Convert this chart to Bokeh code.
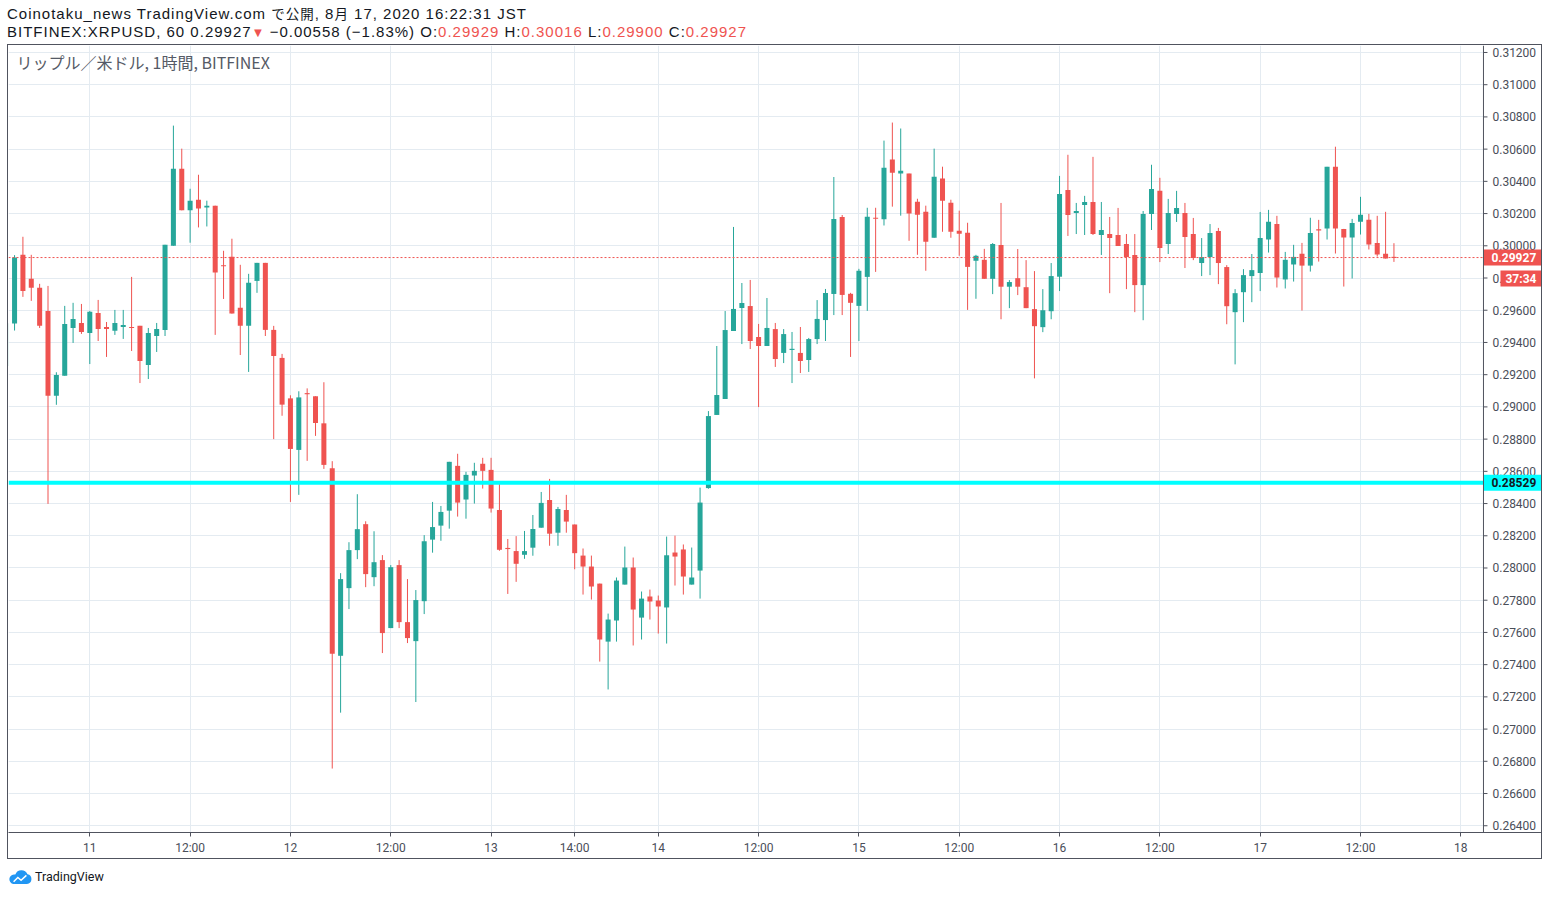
from bokeh.plotting import figure
from bokeh.models import Range1d, FixedTicker, Label, Span, ColumnDataSource, Div
from bokeh.layouts import column
from bokeh.embed import file_html
from bokeh.resources import INLINE
from bokeh.core.properties import value

# ---------------- data ----------------
bar_index = list(range(-10, 157))  # hourly bars, 0 = Aug 11 00:00 (gaps compressed)

opens = [
    0.29254, 0.29517, 0.29944, 0.29795, 0.29739, 0.29596, 0.29069, 0.29194, 0.29490, 0.29521,
    0.29459, 0.29583, 0.29496, 0.29472, 0.29496, 0.29496, 0.29503, 0.29260, 0.29440, 0.29478,
    0.30000, 0.30479, 0.30220, 0.30286, 0.30238, 0.30249, 0.29878, 0.29932, 0.29615, 0.29503,
    0.29782, 0.29894, 0.29478, 0.29304, 0.29053, 0.28733, 0.29084, 0.29066, 0.28898, 0.28619,
    0.27455, 0.27875, 0.28111, 0.28272, 0.27943, 0.28049, 0.27627, 0.28018, 0.27664, 0.27546,
    0.27794, 0.28176, 0.28263, 0.28356, 0.28634, 0.28425, 0.28574, 0.28647, 0.28609, 0.28360,
    0.28124, 0.28105, 0.28082, 0.28126, 0.28250, 0.28422, 0.28219, 0.28360, 0.28270, 0.28077,
    0.28009, 0.27903, 0.27543, 0.27674, 0.27897, 0.28003, 0.27692, 0.27823, 0.27798, 0.27755,
    0.28096, 0.28115, 0.27897, 0.27984, 0.28496, 0.28950, 0.29049, 0.29471, 0.29614, 0.29626,
    0.29434, 0.29378, 0.29483, 0.29335, 0.29355, 0.29335, 0.29291, 0.29421, 0.29539, 0.29701,
    0.30179, 0.29702, 0.29627, 0.29807, 0.30174, 0.30164, 0.30535, 0.30448, 0.30448, 0.30274,
    0.30211, 0.30050, 0.30417, 0.30267, 0.30093, 0.30081, 0.29907, 0.29913, 0.29795, 0.30005,
    0.29746, 0.29799, 0.29743, 0.29607, 0.29495, 0.29594, 0.29808, 0.30347, 0.30204, 0.30254,
    0.30272, 0.30067, 0.30073, 0.30067, 0.30011, 0.29943, 0.29756, 0.30198, 0.30341, 0.30011,
    0.30198, 0.30204, 0.30073, 0.29893, 0.29930, 0.30092, 0.29868, 0.29588, 0.29712, 0.29812,
    0.29831, 0.30039, 0.30136, 0.29791, 0.29884, 0.29950, 0.29877, 0.30101, 0.30107, 0.30490,
    0.30105, 0.30051, 0.30149, 0.30161, 0.30018, 0.29950, 0.29929,
]
highs = [
    0.29550, 0.29942, 0.30056, 0.29944, 0.29764, 0.29751, 0.29215, 0.29627, 0.29646, 0.29639,
    0.29596, 0.29664, 0.29527, 0.29602, 0.29602, 0.29807, 0.29503, 0.29490, 0.29521, 0.30006,
    0.30746, 0.30603, 0.30354, 0.30441, 0.30280, 0.30249, 0.29969, 0.30044, 0.29882, 0.29826,
    0.29894, 0.29894, 0.29503, 0.29329, 0.29072, 0.29097, 0.29115, 0.29066, 0.29153, 0.28663,
    0.27968, 0.28160, 0.28458, 0.28290, 0.28228, 0.28080, 0.28018, 0.28049, 0.27931, 0.27863,
    0.28204, 0.28410, 0.28385, 0.28659, 0.28709, 0.28597, 0.28653, 0.28684, 0.28684, 0.28528,
    0.28180, 0.28198, 0.28230, 0.28329, 0.28472, 0.28553, 0.28379, 0.28454, 0.28270, 0.28121,
    0.28077, 0.27903, 0.27717, 0.27941, 0.28133, 0.28065, 0.27854, 0.27866, 0.27829, 0.28195,
    0.28201, 0.28146, 0.28127, 0.28499, 0.28974, 0.29378, 0.29595, 0.30117, 0.29769, 0.29788,
    0.29515, 0.29676, 0.29521, 0.29483, 0.29465, 0.29496, 0.29428, 0.29663, 0.29732, 0.30427,
    0.30191, 0.29708, 0.29857, 0.30236, 0.30236, 0.30653, 0.30765, 0.30728, 0.30448, 0.30292,
    0.30249, 0.30603, 0.30491, 0.30286, 0.30218, 0.30143, 0.29944, 0.29981, 0.30017, 0.30266,
    0.29787, 0.29980, 0.29911, 0.29843, 0.29731, 0.29893, 0.30434, 0.30565, 0.30266, 0.30310,
    0.30552, 0.30272, 0.30179, 0.30235, 0.30073, 0.30073, 0.30216, 0.30503, 0.30422, 0.30291,
    0.30341, 0.30266, 0.30173, 0.30048, 0.30135, 0.30111, 0.29880, 0.29731, 0.29855, 0.29949,
    0.30210, 0.30223, 0.30186, 0.29962, 0.30006, 0.30018, 0.30174, 0.30161, 0.30490, 0.30615,
    0.30105, 0.30167, 0.30304, 0.30198, 0.30186, 0.30211, 0.30016,
]
lows = [
    0.29220, 0.29474, 0.29683, 0.29658, 0.29490, 0.28398, 0.29013, 0.29194, 0.29397, 0.29453,
    0.29266, 0.29409, 0.29310, 0.29447, 0.29422, 0.29347, 0.29148, 0.29173, 0.29341, 0.29440,
    0.30000, 0.30220, 0.30019, 0.30114, 0.30120, 0.29447, 0.29670, 0.29579, 0.29322, 0.29217,
    0.29708, 0.29440, 0.28800, 0.28945, 0.28410, 0.28454, 0.28665, 0.28820, 0.28615, 0.26755,
    0.27102, 0.27745, 0.28055, 0.27881, 0.27887, 0.27472, 0.27627, 0.27627, 0.27534, 0.27168,
    0.27714, 0.28095, 0.28169, 0.28244, 0.28319, 0.28306, 0.28400, 0.28493, 0.28344, 0.28107,
    0.27839, 0.27914, 0.28057, 0.28076, 0.28250, 0.28138, 0.28138, 0.28219, 0.27992, 0.27835,
    0.27804, 0.27419, 0.27246, 0.27543, 0.27897, 0.27519, 0.27556, 0.27680, 0.27593, 0.27531,
    0.27891, 0.27835, 0.27897, 0.27810, 0.28492, 0.28950, 0.29049, 0.29471, 0.29390, 0.29359,
    0.28999, 0.29378, 0.29248, 0.29272, 0.29148, 0.29210, 0.29217, 0.29390, 0.29409, 0.29570,
    0.29570, 0.29310, 0.29409, 0.29596, 0.29838, 0.30126, 0.30243, 0.30187, 0.30031, 0.29944,
    0.29845, 0.30050, 0.30087, 0.30050, 0.29938, 0.29602, 0.29671, 0.29795, 0.29700, 0.29544,
    0.29613, 0.29694, 0.29613, 0.29177, 0.29464, 0.29544, 0.29719, 0.30061, 0.30073, 0.30067,
    0.30067, 0.29943, 0.29706, 0.29999, 0.29731, 0.29588, 0.29538, 0.30098, 0.29899, 0.29949,
    0.30148, 0.29862, 0.29911, 0.29812, 0.29818, 0.29762, 0.29513, 0.29264, 0.29526, 0.29650,
    0.29719, 0.29958, 0.29741, 0.29735, 0.29778, 0.29598, 0.29840, 0.29902, 0.30039, 0.29952,
    0.29747, 0.29797, 0.30070, 0.29977, 0.29933, 0.29921, 0.29900,
]
closes = [
    0.29519, 0.29927, 0.29720, 0.29739, 0.29503, 0.29069, 0.29198, 0.29515, 0.29546, 0.29465,
    0.29590, 0.29484, 0.29484, 0.29521, 0.29509, 0.29490, 0.29285, 0.29459, 0.29484, 0.30006,
    0.30479, 0.30220, 0.30280, 0.30232, 0.30249, 0.29834, 0.29874, 0.29579, 0.29503, 0.29770,
    0.29894, 0.29478, 0.29316, 0.29014, 0.28739, 0.29059, 0.29080, 0.28900, 0.28640, 0.27468,
    0.27931, 0.28111, 0.28241, 0.27962, 0.28036, 0.27596, 0.28005, 0.27664, 0.27565, 0.27801,
    0.28166, 0.28254, 0.28348, 0.28659, 0.28406, 0.28578, 0.28603, 0.28603, 0.28369, 0.28113,
    0.28118, 0.28026, 0.28105, 0.28242, 0.28404, 0.28213, 0.28366, 0.28288, 0.28092, 0.28009,
    0.27885, 0.27556, 0.27680, 0.27922, 0.28003, 0.27742, 0.27810, 0.27792, 0.27761, 0.28079,
    0.28071, 0.27947, 0.27941, 0.28406, 0.28943, 0.29074, 0.29477, 0.29608, 0.29645, 0.29409,
    0.29378, 0.29490, 0.29297, 0.29452, 0.29359, 0.29285, 0.29421, 0.29546, 0.29707, 0.30166,
    0.29695, 0.29646, 0.29845, 0.30180, 0.30168, 0.30485, 0.30454, 0.30466, 0.30201, 0.30193,
    0.30025, 0.30429, 0.30280, 0.30087, 0.30075, 0.29869, 0.29938, 0.29795, 0.30011, 0.29746,
    0.29775, 0.29746, 0.29613, 0.29501, 0.29600, 0.29812, 0.30322, 0.30191, 0.30216, 0.30272,
    0.30073, 0.30098, 0.30048, 0.29999, 0.29930, 0.29756, 0.30198, 0.30353, 0.29986, 0.30204,
    0.30235, 0.30055, 0.29924, 0.29930, 0.30079, 0.29893, 0.29625, 0.29706, 0.29818, 0.29849,
    0.30048, 0.30149, 0.29803, 0.29913, 0.29931, 0.29877, 0.30080, 0.30097, 0.30490, 0.30107,
    0.30051, 0.30142, 0.30192, 0.30008, 0.29946, 0.29921, 0.29927,
]

time_tick_pos = [0, 12, 24, 36, 48, 58, 68, 80, 92, 104, 116, 128, 140, 152, 164]
time_tick_labels = ["11", "12:00", "12", "12:00", "13", "14:00", "14", "12:00",
                    "15", "12:00", "16", "12:00", "17", "12:00", "18"]

price_ticks = [0.264, 0.266, 0.268, 0.270, 0.272, 0.274, 0.276, 0.278, 0.280, 0.282,
               0.284, 0.286, 0.288, 0.290, 0.292, 0.294, 0.296, 0.298, 0.300, 0.302,
               0.304, 0.306, 0.308, 0.310, 0.312]
price_tick_labels = ["0.26400", "0.26600", "0.26800", "0.27000", "0.27200", "0.27400",
                     "0.27600", "0.27800", "0.28000", "0.28200", "0.28400", "0.28600",
                     "0.28800", "0.29000", "0.29200", "0.29400", "0.29600", "0.29800",
                     "0.30000", "0.30200", "0.30400", "0.30600", "0.30800", "0.31000",
                     "0.31200"]

last_price = 0.29927
last_price_label = "0.29927"
countdown_label = "37:34"
support_level = 0.28529
support_label = "0.28529"
chart_title = "リップル／米ドル, 1時間, BITFINEX"

# ---------------- styling / layout ----------------
UP = "#26a69a"
DOWN = "#ef5350"
CYAN = "#00ffff"
AX = "#50535e"
TXT = "#4a4e59"
GRID = "#e4ebf1"

PLOT_W, PLOT_H = 1535, 815
BOTTOM_AXIS_H = 28
x_start, x_end = -9.725, 173.89          # full frame (bars area + price scale column)
price_area_start = 166.71                # left edge of the price scale column
y_start, y_end = 0.263581, 0.312433
bar_px = PLOT_W / (x_end - x_start)                       # pixels per bar
y_per_px = (y_end - y_start) / (PLOT_H - BOTTOM_AXIS_H)   # price per pixel

tops, bottoms, colors = [], [], []
for o, c in zip(opens, closes):
    t, b = max(o, c), min(o, c)
    if t - b < 0.00007:
        m = (t + b) / 2
        t, b = m + 0.000035, m - 0.000035
    tops.append(t)
    bottoms.append(b)
    colors.append(UP if c >= o else DOWN)

src = ColumnDataSource(dict(x=bar_index, high=highs, low=lows, top=tops, bottom=bottoms, color=colors))

p = figure(width=PLOT_W, height=PLOT_H,
           x_range=Range1d(x_start, x_end), y_range=Range1d(y_start, y_end),
           output_backend="svg", toolbar_location=None, y_axis_location=None,
           min_border_left=0, min_border_top=0, min_border_right=0, min_border_bottom=BOTTOM_AXIS_H,
           background_fill_color="white", border_fill_color="white",
           styles={"border": "1px solid #50535e"})
p.outline_line_color = None

p.xgrid.ticker = FixedTicker(ticks=time_tick_pos)
p.ygrid.ticker = FixedTicker(ticks=price_ticks)
p.grid.grid_line_color = GRID
p.grid.grid_line_width = 1

xa = p.xaxis[0]
xa.ticker = FixedTicker(ticks=time_tick_pos)
xa.major_label_overrides = {t: s for t, s in zip(time_tick_pos, time_tick_labels)}
xa.axis_line_color = AX
xa.major_tick_line_color = AX
xa.minor_tick_line_color = None
xa.major_tick_in = 0
xa.major_tick_out = 4
xa.major_label_text_color = TXT
xa.major_label_text_font = "Roboto"
xa.major_label_text_font_size = "12px"
xa.major_label_standoff = 4

# candles
p.segment(x0="x", y0="high", x1="x", y1="low", line_color="color", line_width=1, source=src)
p.vbar(x="x", width=0.6, top="top", bottom="bottom", fill_color="color", line_color=None, source=src)

# price scale column (right)
p.quad(left=[price_area_start], right=[x_end], bottom=[y_start], top=[y_end],
       fill_color="white", line_color=None)
scale_src = ColumnDataSource(dict(
    x0=[price_area_start] * len(price_ticks),
    x1=[price_area_start + 4 / bar_px] * len(price_ticks),
    y=price_ticks, label=price_tick_labels))
p.segment(x0="x0", y0="y", x1="x1", y1="y", line_color=AX, line_width=1, source=scale_src)
p.text(x="x0", y="y", text="label", x_offset=9, text_baseline="middle", text_align="left",
       text_font=value("Roboto"), text_font_size="12px", text_color=TXT, source=scale_src)

# price tag boxes on the scale
countdown_y = last_price - 21 * y_per_px
half_box = 8 * y_per_px
p.quad(left=[price_area_start, price_area_start + 17 / bar_px, price_area_start],
       right=[x_end, x_end, x_end],
       bottom=[last_price - half_box, countdown_y - half_box, support_level - half_box],
       top=[last_price + half_box, countdown_y + half_box, support_level + half_box],
       fill_color=[DOWN, DOWN, CYAN], line_color=None)

p.add_layout(Span(location=support_level, dimension="width", line_color=CYAN, line_width=4))
p.add_layout(Span(location=last_price, dimension="width", line_color=DOWN, line_width=1, line_dash="2 2"))
p.add_layout(Span(location=price_area_start, dimension="height", line_color=AX, line_width=1))

p.add_layout(Label(x=x_start, y=y_end, x_offset=8, y_offset=-16, text=chart_title,
                   text_font="Noto Sans CJK JP", text_font_size="16px", text_color="#555a66",
                   text_baseline="middle", text_align="left"))

p.add_layout(Label(x=price_area_start, y=last_price, x_offset=8, text=last_price_label,
                   text_font="Roboto", text_font_size="12px", text_font_style="bold",
                   text_color="white", text_baseline="middle", text_align="left"))
p.add_layout(Label(x=price_area_start, y=countdown_y, x_offset=22, text=countdown_label,
                   text_font="Roboto", text_font_size="12px", text_font_style="bold",
                   text_color="white", text_baseline="middle", text_align="left"))
p.add_layout(Label(x=price_area_start, y=support_level, x_offset=8, text=support_label,
                   text_font="Roboto", text_font_size="12px", text_font_style="bold",
                   text_color="#131722", text_baseline="middle", text_align="left"))

RED = "#ef5350"
header_html = (
    '<div style="margin-top:-4px;font-family:\'Liberation Sans\',Arial,sans-serif;'
    'font-size:15px;letter-spacing:1px;color:#131722;white-space:nowrap;">'
    '<div style="height:18px;line-height:18px;">Coinotaku_news TradingView.com '
    '<span style="font-size:13.5px;font-family:\'Noto Sans CJK JP\';">で公開</span>, 8'
    '<span style="font-size:13.5px;font-family:\'Noto Sans CJK JP\';">月</span> 17, 2020 16:22:31 JST</div>'
    '<div style="height:18px;line-height:18px;padding-top:1px;">BITFINEX:XRPUSD, 60 0.29927'
    '<span style="color:%s;font-size:13px;letter-spacing:0;">▼</span> '
    '−0.00558 (−1.83%%) O:<span style="color:%s">0.29929</span> '
    'H:<span style="color:%s">0.30016</span> L:<span style="color:%s">0.29900</span> '
    'C:<span style="color:%s">0.29927</span></div></div>' % (RED, RED, RED, RED, RED)
)
header = Div(text=header_html, width=PLOT_W, height=36, margin=0)

footer_html = (
    '<div style="display:flex;align-items:center;height:20px;padding-top:16px;'
    'font-family:Roboto,sans-serif;font-size:12.5px;color:#131722;white-space:nowrap;">'
    '<svg width="26" height="16" viewBox="0 0 24 15">'
    '<path d="M5.5 14 H18.5 A4.6 4.6 0 0 0 19 4.9 A6.2 6.2 0 0 0 7.6 5.2 A4.4 4.4 0 0 0 5.5 14 Z" fill="#2196f3"/>'
    '<path d="M6 12 L10 8 L13 10.5 L18 6" stroke="white" stroke-width="1.4" fill="none"/>'
    '</svg><span style="margin-left:2px;">TradingView</span></div>'
)
footer = Div(text=footer_html, width=PLOT_W, height=36, margin=0)

layout = column(header, p, footer, spacing=0, margin=(8, 0, 0, 7))
open("out.html", "w").write(file_html(layout, INLINE))
